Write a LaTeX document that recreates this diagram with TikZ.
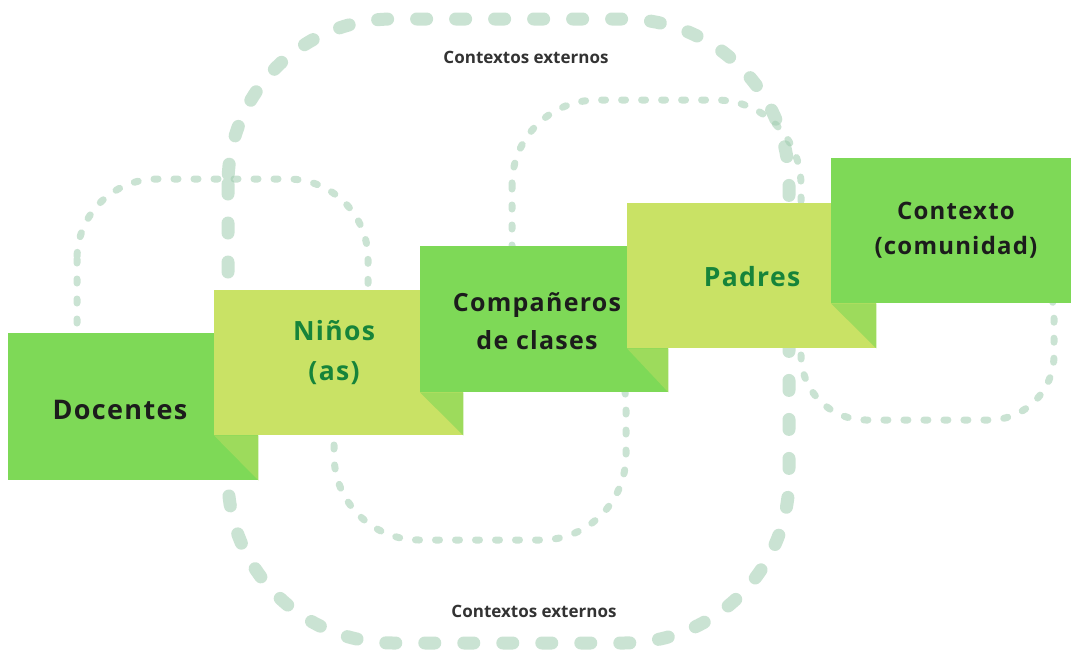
\documentclass[tikz,border=0pt]{standalone}
\usepackage{fontspec}
\setmainfont{Open Sans}
\newfontfamily\labfont[LetterSpace=5]{Open Sans}
\definecolor{boxgreen}{RGB}{126,217,87}
\definecolor{boxlight}{RGB}{201,226,101}
\definecolor{foldgreen}{RGB}{157,219,92}
\definecolor{txtdark}{RGB}{28,28,28}
\definecolor{txtgreen}{RGB}{22,132,58}
\definecolor{loopcol}{RGB}{160,205,175}
\begin{document}
\begin{tikzpicture}[x=1pt,y=-1pt,
  bigloop/.style={draw=loopcol, draw opacity=0.55, line width=13pt, line cap=round, dash pattern=on 10pt off 29pt},
  smallloop/.style={draw=loopcol, draw opacity=0.55, line width=7pt, line cap=round, dash pattern=on 4pt off 16pt},
  boxbase/.style={inner sep=0pt, anchor=north west},
  gbox/.style={boxbase, fill=boxgreen},
  lbox/.style={boxbase, fill=boxlight},
  fold/.style={fill=foldgreen},
  darklab/.style={font=\labfont\bfseries\fontsize{25}{38}\selectfont, text=txtdark, align=center, inner sep=0pt},
  greenlab/.style={font=\labfont\bfseries\fontsize{26.5}{40}\selectfont, text=txtgreen, align=center, inner sep=0pt},
  extlab/.style={font=\bfseries\fontsize{17}{20}\selectfont, text=txtdark!90, inner sep=0pt}
]
\useasboundingbox (0,0) rectangle (1071,656);
\fill[white] (0,0) rectangle (1071,656);

% dashed loops (behind the boxes)
\draw[bigloop, rounded corners=165pt] (228,19) rectangle (789,643);
\draw[smallloop, rounded corners=80pt] (77,179) rectangle (368,420);
\draw[smallloop, rounded corners=85pt] (334,320) rectangle (626,540);
\draw[smallloop, rounded corners=85pt] (512,100) rectangle (801,335);
\draw[smallloop, rounded corners=65pt] (801,250) rectangle (1054,420);

% boxes
\node[gbox, minimum width=250pt, minimum height=147pt] (doc) at (8,333) {};
\node[lbox, minimum width=249pt, minimum height=145pt] (nin) at (214,290) {};
\node[gbox, minimum width=248pt, minimum height=146pt] (com) at (420,246) {};
\node[lbox, minimum width=249pt, minimum height=145pt] (pad) at (627,203) {};
\node[gbox, minimum width=240pt, minimum height=145pt] (ctx) at (831,158) {};

% folds
\fill[fold] (nin.south west) -- (nin.south west -| doc.east) -- (doc.south east) -- cycle;
\fill[fold] (com.south west) -- (com.south west -| nin.east) -- (nin.south east) -- cycle;
\fill[fold] (pad.south west) -- (pad.south west -| com.east) -- (com.south east) -- cycle;
\fill[fold] (ctx.south west) -- (ctx.south west -| pad.east) -- (pad.south east) -- cycle;

% labels
\node[darklab, font=\labfont\bfseries\fontsize{27}{38}\selectfont] (tdoc) at (120,410) {Docentes};
\node[greenlab] (tnin) at (334,353) {Niños\\(as)};
\node[darklab] (tcom) at (537,321) {Compañeros\\de clases};
\node[greenlab] (tpad) at (752,277) {Padres};
\node[darklab, font=\labfont\bfseries\fontsize{24}{35}\selectfont] (tctx) at (956,230) {Contexto\\(comunidad)};

\node[extlab] (ext1) at (526,57) {Contextos externos};
\node[extlab] (ext2) at (534,611) {Contextos externos};
\end{tikzpicture}
\end{document}
